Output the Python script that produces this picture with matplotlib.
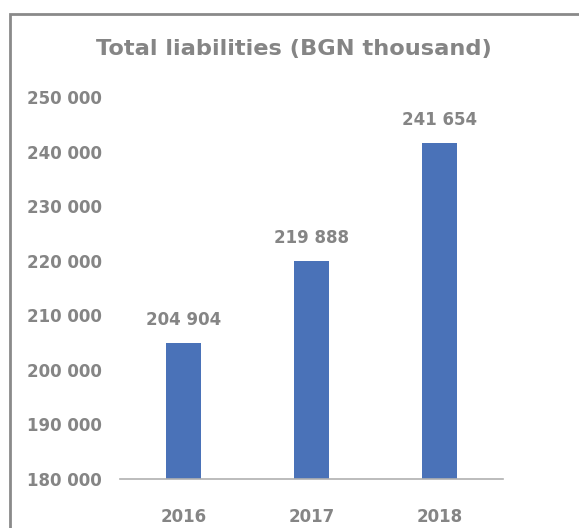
import matplotlib
matplotlib.use("Agg")
import matplotlib.pyplot as plt
from matplotlib.patches import Rectangle
from matplotlib.ticker import FuncFormatter

categories = ["2016", "2017", "2018"]
values = [204904, 219888, 241654]
title = "Total liabilities (BGN thousand)"

plt.rcParams['font.family'] = ['DejaVu Sans']

def fmt(v, pos=None):
    return f"{int(v):,}".replace(",", " ")

fig = plt.figure(figsize=(5.79, 5.28), dpi=100)
ax = fig.add_axes([0.207, 0.0928, 0.662, 0.7235])

gray = "#858585"
x = range(len(categories))
bars = ax.bar(x, values, width=0.27, color="#4a72b8")
ax.set_ylim(180000, 250000)
ax.set_xlim(-0.5, 2.5)
ax.set_yticks(range(180000, 250001, 10000))
ax.yaxis.set_major_formatter(FuncFormatter(fmt))
ax.set_xticks(list(x))
ax.set_xticklabels(categories)

for s in ["top", "right", "left"]:
    ax.spines[s].set_visible(False)
ax.spines["bottom"].set_color("#b0b0b0")
ax.spines["bottom"].set_linewidth(1.2)
ax.tick_params(axis="both", length=0, colors=gray, labelsize=12)
ax.tick_params(axis="y", pad=13)
ax.tick_params(axis="x", pad=21)
for lbl in ax.get_xticklabels() + ax.get_yticklabels():
    lbl.set_fontweight("bold")

for xi, v in zip(x, values):
    ax.annotate(fmt(v), (xi, v), xytext=(0, 10), textcoords="offset points",
                ha="center", va="bottom", color=gray, fontsize=12, fontweight="bold")

fig.text(0.507, 0.908, title, ha="center", va="center", color=gray,
         fontsize=16.2, fontweight="semibold")

frame = Rectangle((10/579, -0.1), 1.2, (528-14)/528 + 0.1, transform=fig.transFigure,
                  fill=False, edgecolor="#8a8a8a", linewidth=2, clip_on=False)
fig.patches.append(frame)

fig.savefig("out.png", dpi=100)
